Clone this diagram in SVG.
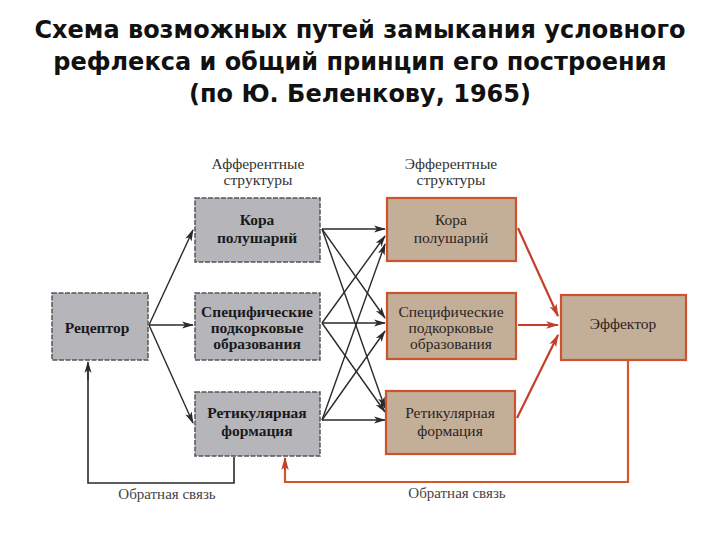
<svg xmlns="http://www.w3.org/2000/svg" width="720" height="540" viewBox="0 0 720 540">
<defs>
<marker id="ab" viewBox="0 0 12 8" refX="11" refY="4" markerWidth="12" markerHeight="8" markerUnits="userSpaceOnUse" orient="auto">
<path d="M0,0.5 L12,4 L0,7.5 L3,4 Z" fill="#2a2a2a"/>
</marker>
<marker id="ar" viewBox="0 0 12 8" refX="11" refY="4" markerWidth="13" markerHeight="9" markerUnits="userSpaceOnUse" orient="auto">
<path d="M0,0.5 L12,4 L0,7.5 L3,4 Z" fill="#c2402a"/>
</marker>
<style>
.title{font-family:"DejaVu Sans",sans-serif;font-weight:bold;font-size:24px;fill:#111;text-anchor:middle}
.aff{fill:#b5b5ba;stroke:#555;stroke-width:1.5;stroke-dasharray:5 1.5}
.eff{fill:#c3ae98;stroke:#c9542e;stroke-width:2.2}
.tl{font-family:"Liberation Serif",serif;font-size:15.5px;fill:#1a1a1a;text-anchor:middle;font-weight:bold}
.tr{font-family:"Liberation Serif",serif;font-size:15.5px;fill:#2a2420;text-anchor:middle}
.hd{font-family:"Liberation Serif",serif;font-size:15.5px;fill:#333;text-anchor:middle}
.fb{font-family:"Liberation Serif",serif;font-size:15px;fill:#444;text-anchor:middle}
.bk{stroke:#2a2a2a;stroke-width:1.4;fill:none;marker-end:url(#ab)}
.rd{stroke:#c2402a;stroke-width:2.2;fill:none;marker-end:url(#ar)}
.fbk{stroke:#2a2a2a;stroke-width:1.6;fill:none}
.frd{stroke:#d4552a;stroke-width:2.2;fill:none}
</style>
</defs>
<rect width="720" height="540" fill="#fff"/>
<g id="title">
<text class="title" x="360" y="38">Схема возможных путей замыкания условного</text>
<text class="title" x="360" y="70">рефлекса и общий принцип его построения</text>
<text class="title" x="360" y="102">(по Ю. Беленкову, 1965)</text>
</g>
<g id="headers">
<text class="hd" x="258" y="169">Афферентные</text>
<text class="hd" x="258" y="185">структуры</text>
<text class="hd" x="451" y="169">Эфферентные</text>
<text class="hd" x="451" y="185">структуры</text>
</g>
<g id="connectors">
<path class="bk" d="M149,325 L193,230"/>
<path class="bk" d="M149,325 L193,325"/>
<path class="bk" d="M149,325 L193,423"/>
<path class="bk" d="M322,229 L385,229"/>
<path class="bk" d="M322,229 L385,318"/>
<path class="bk" d="M322,229 L385,408"/>
<path class="bk" d="M322,323 L385,236"/>
<path class="bk" d="M322,323 L385,323"/>
<path class="bk" d="M322,323 L385,412"/>
<path class="bk" d="M322,420 L385,244"/>
<path class="bk" d="M322,420 L385,331"/>
<path class="bk" d="M322,420 L385,420"/>
<path class="rd" d="M518,228 L558,316"/>
<path class="rd" d="M518,325 L558,325"/>
<path class="rd" d="M517,418 L558,335"/>
<path class="fbk" d="M234,457 L234,483 L88,483 L88,370"/>
<path class="bk" d="M88,380 L88,362"/>
<path class="frd" d="M628,361 L628,482 L285,482 L285,468"/>
<path class="rd" d="M285,470 L285,458"/>
<text class="fb" x="167" y="499">Обратная связь</text>
<text class="fb" x="457" y="498">Обратная связь</text>
</g>
<g id="receptor">
<rect class="aff" x="52" y="293" width="96" height="67"/>
<text class="tl" x="97" y="333">Рецептор</text>
</g>
<g id="aff-cortex">
<rect class="aff" x="195" y="198" width="125" height="64"/>
<text class="tl" x="257" y="225">Кора</text>
<text class="tl" x="257" y="243">полушарий</text>
</g>
<g id="aff-subcortical">
<rect class="aff" x="195" y="293" width="125" height="67"/>
<text class="tl" x="257" y="317">Специфические</text>
<text class="tl" x="257" y="333">подкорковые</text>
<text class="tl" x="257" y="349">образования</text>
</g>
<g id="aff-reticular">
<rect class="aff" x="195" y="392" width="125" height="64"/>
<text class="tl" x="257" y="418">Ретикулярная</text>
<text class="tl" x="257" y="436">формация</text>
</g>
<g id="eff-cortex">
<rect class="eff" x="387" y="198" width="129" height="63"/>
<text class="tr" x="451" y="225">Кора</text>
<text class="tr" x="451" y="243">полушарий</text>
</g>
<g id="eff-subcortical">
<rect class="eff" x="387" y="293" width="129" height="66"/>
<text class="tr" x="451" y="317">Специфические</text>
<text class="tr" x="451" y="333">подкорковые</text>
<text class="tr" x="451" y="349">образования</text>
</g>
<g id="eff-reticular">
<rect class="eff" x="386" y="391" width="129" height="63"/>
<text class="tr" x="450" y="418">Ретикулярная</text>
<text class="tr" x="450" y="436">формация</text>
</g>
<g id="effector">
<rect class="eff" x="561" y="295" width="125" height="65"/>
<text class="tr" x="623" y="329">Эффектор</text>
</g>
</svg>
